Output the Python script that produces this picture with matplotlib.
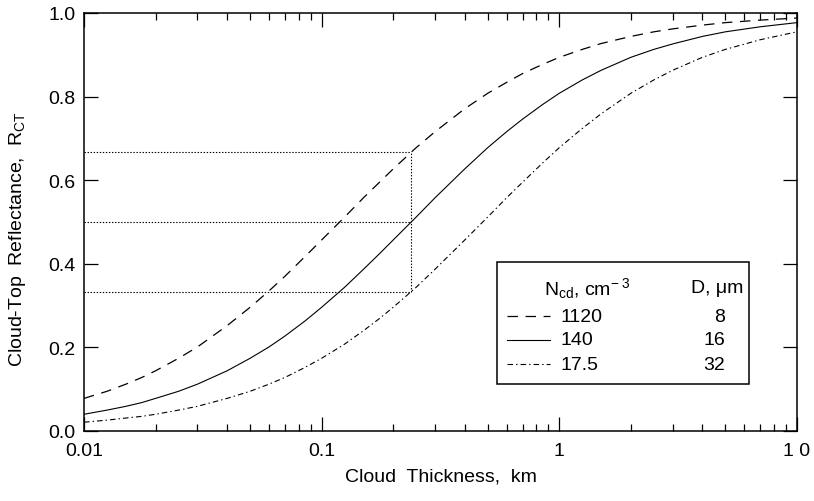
import matplotlib
matplotlib.use("Agg")
import matplotlib.pyplot as plt
from matplotlib.patches import Rectangle
from matplotlib.lines import Line2D

plt.rcParams['font.family'] = ['Liberation Sans', 'DejaVu Sans']
plt.rcParams['mathtext.fontset'] = 'custom'
plt.rcParams['mathtext.rm'] = 'Liberation Sans'
plt.rcParams['mathtext.it'] = 'Liberation Sans:italic'
plt.rcParams['lines.scale_dashes'] = False

# ---- data ----
thickness_km = [0.01, 0.0125, 0.015, 0.0175, 0.02, 0.025, 0.03, 0.04, 0.05, 0.06,
                0.07, 0.085, 0.1, 0.125, 0.15, 0.175, 0.2, 0.25, 0.3, 0.4,
                0.5, 0.6, 0.7, 0.85, 1, 1.25, 1.5, 2, 2.5, 3, 4, 5, 7, 10]
refl_1120 = [0.078, 0.095, 0.112, 0.128, 0.144, 0.174, 0.201, 0.252, 0.296, 0.335,
             0.370, 0.417, 0.457, 0.512, 0.558, 0.595, 0.627, 0.678, 0.716, 0.771,
             0.808, 0.834, 0.855, 0.877, 0.894, 0.913, 0.927, 0.944, 0.955, 0.962,
             0.971, 0.977, 0.983, 0.988]
refl_140 = [0.040, 0.050, 0.059, 0.068, 0.078, 0.095, 0.112, 0.144, 0.174, 0.201,
            0.227, 0.263, 0.296, 0.344, 0.387, 0.424, 0.457, 0.512, 0.558, 0.627,
            0.678, 0.716, 0.746, 0.781, 0.808, 0.840, 0.863, 0.894, 0.913, 0.926,
            0.944, 0.955, 0.967, 0.977]
refl_17_5 = [0.021, 0.026, 0.031, 0.035, 0.040, 0.050, 0.059, 0.078, 0.095, 0.112,
             0.128, 0.152, 0.174, 0.208, 0.240, 0.269, 0.296, 0.344, 0.387, 0.457,
             0.512, 0.558, 0.595, 0.641, 0.678, 0.724, 0.759, 0.808, 0.840, 0.863,
             0.894, 0.913, 0.936, 0.955]

ncd_labels = ["1120", "140", "17.5"]
d_labels = ["8", "16", "32"]

ref_x = 0.238
ref_levels = [1/3, 0.5, 2/3]

xtick_vals = [0.01, 0.1, 1, 10]
xtick_labels = ["0.01", "0.1", "1", "1 0"]
ytick_vals = [0.0, 0.2, 0.4, 0.6, 0.8, 1.0]
ytick_labels = ["0.0", "0.2", "0.4", "0.6", "0.8", "1.0"]

FS = 14

# ---- figure ----
fig = plt.figure(figsize=(8.14, 5.02), dpi=100)
ax = fig.add_axes([84/814, 1 - 432/502, 713/814, 418/502])

styles = [dict(color='black', lw=0.9, dashes=(7.5, 5.5)),
          dict(color='black', lw=0.8, linestyle='-'),
          dict(color='black', lw=0.8, dashes=(4.0, 2.2, 1.0, 2.2))]

series = [refl_1120, refl_140, refl_17_5]
for ys, st in zip(series, styles):
    ax.plot(thickness_km, ys, **st)

# reference dotted lines
dot = dict(color='black', lw=0.8, dashes=(1.0, 1.2))
for lv in ref_levels:
    ax.plot([0.01, ref_x], [lv, lv], **dot)
ax.plot([ref_x, ref_x], [ref_levels[0], ref_levels[-1]], **dot)

ax.set_xscale('log')
ax.set_xlim(0.01, 10)
ax.set_ylim(0, 1)
ax.set_xticks(xtick_vals)
ax.set_xticklabels(xtick_labels)
ax.set_yticks(ytick_vals)
ax.set_yticklabels(ytick_labels)
ax.minorticks_on()
ax.yaxis.set_minor_locator(matplotlib.ticker.NullLocator())
ax.tick_params(which='both', direction='in', top=True, right=True, width=0.9,
               labelsize=FS)
ax.tick_params(which='major', length=10)
ax.tick_params(which='minor', length=5)
ax.tick_params(axis='x', which='major', pad=8)
ax.tick_params(axis='y', which='major', pad=6)
for sp in ax.spines.values():
    sp.set_linewidth(1.1)

ax.set_xlabel("Cloud  Thickness,  km", fontsize=FS, labelpad=6)
ax.set_ylabel(r"Cloud-Top  Reflectance,  R$_{\rm CT}$", fontsize=FS)
ax.yaxis.set_label_coords(-0.079, 0.46)

# ---- legend (table style) ----
T = ax.transAxes
ax.add_patch(Rectangle((0.579, 0.112), 0.354, 0.292, transform=T, fill=True,
                       facecolor='white', edgecolor='black', lw=1.1, zorder=5))
ax.text(0.645, 0.344, r"N$_{\rm cd}$, cm$^{-\ 3}$", transform=T, fontsize=FS,
        ha='left', va='center', zorder=6)
ax.text(0.925, 0.344, "D, \u03bcm", transform=T, fontsize=FS, ha='right',
        va='center', zorder=6)
row_y = [0.275, 0.218, 0.160]
for ry, st, nl, dl in zip(row_y, styles, ncd_labels, d_labels):
    ax.add_line(Line2D([0.593, 0.654], [ry, ry], transform=T, zorder=6, **st))
    ax.text(0.668, ry, nl, transform=T, fontsize=FS, ha='left', va='center', zorder=6)
    ax.text(0.899, ry, dl, transform=T, fontsize=FS, ha='right', va='center', zorder=6)

fig.savefig("out.png", dpi=100)
